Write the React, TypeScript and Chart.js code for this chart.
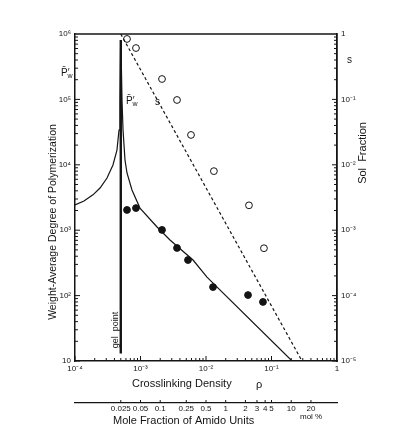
import React, { useEffect, useRef } from 'react';
import { Chart, registerables } from 'chart.js';
Chart.register(...registerables);

const FONT = '"Liberation Sans", Arial, Helvetica, sans-serif';
const INK = '#141414';

// Theoretical Pw' below the gel point (crosslinking density rho, Pw')
const preGelRho = [1e-4, 1.37e-4, 1.88e-4, 2.41e-4, 3.08e-4, 3.8e-4, 4.37e-4, 4.7e-4, 4.86e-4, 4.98e-4];
const preGelPw = [2430, 2800, 3470, 4420, 6280, 9940, 16800, 34000, 98000, 810000];
// Theoretical Pw' beyond the gel point
const postGelRho = [5.02e-4, 5.22e-4, 5.41e-4, 5.8e-4, 6.22e-4, 7.41e-4, 9.82e-4, 1.79e-3, 2.82e-3, 6.34e-3, 0.01035, 0.206];
const postGelPw = [810000, 98000, 34000, 11800, 7500, 4120, 2180, 1120, 708, 350, 192, 10];
// Gel point marker
const gelRho = [5e-4, 5e-4];
const gelPw = [13, 810000];
// Measured Pw' (filled circles)
const measRho = [6.22e-4, 8.53e-4, 2.13e-3, 3.61e-3, 5.31e-3, 0.0128, 0.0438, 0.0741];
const measPw = [2040, 2180, 1010, 535, 350, 135, 102, 80];
// Measured sol fraction s (open circles)
const solRho = [6.22e-4, 8.53e-4, 2.13e-3, 3.61e-3, 5.9e-3, 0.0132, 0.0453, 0.0767];
const solS = [0.84, 0.61, 0.205, 0.098, 0.0286, 0.008, 0.0024, 0.00053];
// Theoretical sol fraction (dashed)
const solTheoryRho = [5e-4, 0.292];
const solTheoryS = [1, 1e-5];
// Mole fraction of amido units axis (mol %)
const molTicks = [0.025, 0.05, 0.1, 0.25, 0.5, 1, 2, 3, 4, 5, 10, 20];
const molLabels = ['0.025', '0.05', '0.1', '0.25', '0.5', '1', '2', '3', '4', '5', '10', '20'];

const SUP: Record<string, string> = { '-': '\u207B', '0': '\u2070', '1': '\u00B9', '2': '\u00B2', '3': '\u00B3', '4': '\u2074', '5': '\u2075', '6': '\u2076', '7': '\u2077', '8': '\u2078', '9': '\u2079' };
const pow10Label = (v: number) => {
  const l = Math.log10(v);
  const r = Math.round(l);
  if (Math.abs(l - r) > 1e-6) return '';
  if (r === 0) return '1';
  if (r === 1) return '10';
  return '10' + String(r).split('').map((c) => SUP[c]).join('');
};
const zip = (xs: number[], ys: number[]) => xs.map((x, i) => ({ x, y: ys[i] }));

const decor = {
  id: 'decor',
  afterDraw(chart: any) {
    const { ctx, chartArea: a, scales } = chart;
    const { x, y, y2, x2 } = scales;
    ctx.save();
    ctx.strokeStyle = INK;
    ctx.lineWidth = 1;
    const ln = (x1: number, y1: number, xx: number, yy: number) => {
      ctx.beginPath(); ctx.moveTo(x1, y1); ctx.lineTo(xx, yy); ctx.stroke();
    };
    ctx.lineWidth = 1.5;
    ln(a.left, a.top, a.right, a.top);
    ctx.lineWidth = 1;
    for (let k = -4; k <= -1; k++) for (let m = 1; m <= 9; m++) {
      const px = x.getPixelForValue(m * Math.pow(10, k));
      ln(px, a.bottom, px, a.bottom - (m === 1 ? 5 : 3));
    }
    for (let k = 1; k <= 5; k++) for (let m = 1; m <= 9; m++) {
      const py = y.getPixelForValue(m * Math.pow(10, k));
      ln(a.left, py, a.left + (m === 1 ? 5 : 3), py);
    }
    for (let k = -5; k <= -1; k++) for (let m = 1; m <= 9; m++) {
      const py = y2.getPixelForValue(m * Math.pow(10, k));
      ln(a.right, py, a.right - (m === 1 ? 5 : 3), py);
    }
    for (const v of molTicks) {
      const px = x2.getPixelForValue(v);
      ln(px, x2.top, px, x2.top - 3);
    }
    ctx.fillStyle = INK;
    ctx.textBaseline = 'middle';
    // axis titles
    ctx.font = `11px ${FONT}`;
    ctx.textAlign = 'left';
    ctx.fillText('Crosslinking Density', 132, 384);
    ctx.fillText('\u03C1', 256, 385);
    ctx.fillText('Mole Fraction of Amido Units', 113, 421);
    ctx.font = `8px ${FONT}`;
    ctx.fillText('mol %', 300, 417);
    ctx.save();
    ctx.font = `10.5px ${FONT}`;
    ctx.textAlign = 'center';
    ctx.translate(53, 222); ctx.rotate(-Math.PI / 2);
    ctx.fillText('Weight-Average Degree of Polymerization', 0, 0);
    ctx.restore();
    ctx.save();
    ctx.font = `11px ${FONT}`;
    ctx.textAlign = 'center';
    ctx.translate(363, 153); ctx.rotate(-Math.PI / 2);
    ctx.fillText('Sol  Fraction', 0, 0);
    ctx.restore();
    ctx.save();
    ctx.font = `9px ${FONT}`;
    ctx.textAlign = 'center';
    ctx.translate(116, 330); ctx.rotate(-Math.PI / 2);
    ctx.fillText('gel  point', 0, 0);
    ctx.restore();
    // curve labels
    const pw = (px: number, py: number) => {
      ctx.textAlign = 'left';
      ctx.font = `10px ${FONT}`;
      ctx.fillText('P\u0304\u2032', px, py);
      ctx.font = `7px ${FONT}`;
      ctx.fillText('w', px + 6.5, py + 3);
    };
    pw(61, 73);
    pw(126, 101);
    ctx.font = `10px ${FONT}`;
    ctx.fillText('s', 155, 102);
    ctx.fillText('s', 347, 60);
    ctx.restore();
  },
};

export default function App() {
  const ref = useRef<HTMLCanvasElement>(null);
  useEffect(() => {
    if (!ref.current) return;
    const tickFont = { family: FONT, size: 8 };
    const chart = new Chart(ref.current, {
      type: 'scatter',
      data: {
        datasets: [
          { label: "Pw' (pre-gel)", data: zip(preGelRho, preGelPw), showLine: true, borderColor: INK, borderWidth: 1.2, pointRadius: 0, xAxisID: 'x', yAxisID: 'y' },
          { label: "Pw' (post-gel)", data: zip(postGelRho, postGelPw), showLine: true, borderColor: INK, borderWidth: 1.2, pointRadius: 0, xAxisID: 'x', yAxisID: 'y' },
          { label: 'gel point', data: zip(gelRho, gelPw), showLine: true, borderColor: INK, borderWidth: 2.4, pointRadius: 0, xAxisID: 'x', yAxisID: 'y' },
          { label: "Pw' measured", data: zip(measRho, measPw), showLine: false, backgroundColor: INK, borderColor: INK, pointRadius: 3.4, xAxisID: 'x', yAxisID: 'y' },
          { label: 's theory', data: zip(solTheoryRho, solTheoryS), showLine: true, borderColor: INK, borderWidth: 1.2, borderDash: [3, 2.5], pointRadius: 0, xAxisID: 'x', yAxisID: 'y2' },
          { label: 's measured', data: zip(solRho, solS), showLine: false, backgroundColor: '#fff', borderColor: INK, borderWidth: 1, pointRadius: 3.4, xAxisID: 'x', yAxisID: 'y2' },
        ],
      },
      options: {
        responsive: false,
        animation: false,
        layout: { padding: { top: 34, left: 0, right: 0, bottom: 0 } },
        plugins: { legend: { display: false }, tooltip: { enabled: false } },
        scales: {
          x: {
            type: 'logarithmic', position: 'bottom', min: 1e-4, max: 1,
            grid: { display: false, drawTicks: false },
            border: { display: true, color: INK, width: 1.5 },
            ticks: { autoSkip: false, maxRotation: 0, padding: 3, color: INK, font: tickFont, callback: (v: any) => pow10Label(Number(v)) },
            afterFit: (s: any) => { s.height = 42; },
          },
          x2: {
            type: 'logarithmic', position: 'bottom', weight: 1, min: 0.005, max: 50,
            grid: { display: false, drawTicks: false },
            border: { display: true, color: INK, width: 1.2 },
            afterBuildTicks: (s: any) => { s.ticks = molTicks.map((v) => ({ value: v })); },
            ticks: { autoSkip: false, maxRotation: 0, padding: 1, color: INK, font: tickFont, callback: (v: any) => { const i = molTicks.indexOf(Number(v)); return i >= 0 ? molLabels[i] : ''; } },
            afterFit: (s: any) => { s.height = 41; },
          },
          y: {
            type: 'logarithmic', position: 'left', min: 10, max: 1e6,
            grid: { display: false, drawTicks: false },
            border: { display: true, color: INK, width: 1.5 },
            ticks: { autoSkip: false, padding: 4, color: INK, font: tickFont, callback: (v: any) => pow10Label(Number(v)) },
            afterFit: (s: any) => { s.width = 75; },
          },
          y2: {
            type: 'logarithmic', position: 'right', min: 1e-5, max: 1,
            grid: { display: false, drawTicks: false },
            border: { display: true, color: INK, width: 1.8 },
            ticks: { autoSkip: false, padding: 4, color: INK, font: tickFont, callback: (v: any) => pow10Label(Number(v)) },
            afterFit: (s: any) => { s.width = 62; },
          },
        },
      },
      plugins: [decor],
    } as any);
    return () => chart.destroy();
  }, []);
  return (
    <div style={{ position: 'fixed', left: 0, top: 0, width: 399, height: 444, background: '#fff' }}>
      <canvas ref={ref} width={399} height={444} style={{ display: 'block', width: 399, height: 444 }} />
    </div>
  );
}
